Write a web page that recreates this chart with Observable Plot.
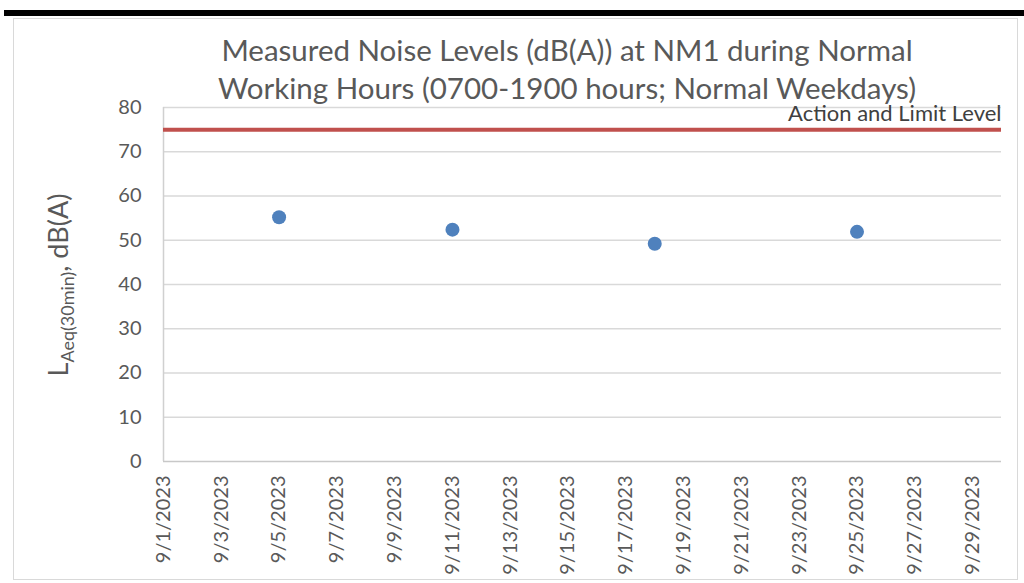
<!DOCTYPE html>
<html><head><meta charset="utf-8">
<script src="https://cdn.jsdelivr.net/npm/d3@7"></script>
<script src="https://cdn.jsdelivr.net/npm/@observablehq/plot@0.6"></script>
<style>
body{margin:0;background:#fff;font-family:Lato,sans-serif;}
#wrap{position:relative;width:1024px;height:583px;overflow:hidden;background:#fff;}
#bar{position:absolute;left:4px;top:10px;width:1020px;height:6px;background:#000;}
#frame{position:absolute;left:13px;top:18px;width:1005px;height:562px;border:1px solid #d9d9d9;box-sizing:border-box;}
#title{position:absolute;left:117px;top:31px;width:900px;text-align:center;font-size:29.5px;line-height:38px;color:#595959;z-index:2;white-space:nowrap;}
#ylab{position:absolute;left:-92px;top:268px;width:300px;height:34px;line-height:34px;text-align:center;transform:rotate(-90deg);font-size:27px;color:#595959;z-index:2;white-space:nowrap;}
#ylab sub{font-size:18px;vertical-align:-6px;}
#chart{position:absolute;left:0;top:0;z-index:1;}
</style></head>
<body>
<div id="wrap">
  <div id="bar"></div>
  <div id="frame"></div>
  <div id="title">Measured Noise Levels (dB(A)) at NM1 during Normal<br>Working Hours (0700-1900 hours; Normal Weekdays)</div>
  <div id="ylab">L<sub>Aeq(30min)</sub>, dB(A)</div>
  <div id="chart"></div>
</div>
<script>
// Data
const dates = ["2023-09-05", "2023-09-11", "2023-09-18", "2023-09-25"];
const levels = [55.2, 52.4, 49.2, 51.9];
const limitLevel = 75;
const limitLabel = "Action and Limit Level";
const xDomain = ["2023-09-01", "2023-09-30"];
const xTicks = ["2023-09-01","2023-09-03","2023-09-05","2023-09-07","2023-09-09","2023-09-11","2023-09-13","2023-09-15","2023-09-17","2023-09-19","2023-09-21","2023-09-23","2023-09-25","2023-09-27","2023-09-29"];
const yTicks = [0, 10, 20, 30, 40, 50, 60, 70, 80];

const data = dates.map((d, i) => ({date: new Date(d), value: levels[i]}));
const fmt = d => `${d.getUTCMonth() + 1}/${d.getUTCDate()}/${d.getUTCFullYear()}`;
const x0 = new Date(xDomain[0]), x1 = new Date(xDomain[1]);

const plot = Plot.plot({
  width: 1024,
  height: 583,
  marginLeft: 163,
  marginRight: 23,
  marginTop: 107,
  marginBottom: 122,
  style: {fontFamily: "Lato, sans-serif", color: "#595959", background: "transparent"},
  x: {type: "utc", domain: [x0, x1]},
  y: {domain: [0, 80]},
  marks: [
    Plot.gridY(yTicks.filter(v => v > 0), {stroke: "#d9d9d9", strokeOpacity: 1, strokeWidth: 1.5}),
    Plot.ruleX([x0], {stroke: "#d0d0d0", strokeWidth: 1.5}),
    Plot.ruleY([0], {stroke: "#c8c8c8", strokeWidth: 1.5}),
    Plot.axisY(yTicks, {tickSize: 0, tickPadding: 22, fontSize: 20, label: null, fill: "#595959"}),
    Plot.axisX(xTicks.map(d => new Date(d)), {tickSize: 0, tickPadding: 14, tickRotate: -90, fontSize: 20, tickFormat: fmt, label: null, fill: "#595959"}),
    Plot.ruleY([limitLevel], {stroke: "#c0504d", strokeWidth: 4}),
    Plot.text([limitLabel], {x: x1, y: limitLevel, dy: -9, lineAnchor: "bottom", textAnchor: "end", fontSize: 22, fill: "#404040", text: d => d}),
    Plot.dot(data, {x: "date", y: "value", r: 7, fill: "#4f81bd", stroke: null})
  ]
});
document.getElementById("chart").appendChild(plot);
</script>
</body></html>
